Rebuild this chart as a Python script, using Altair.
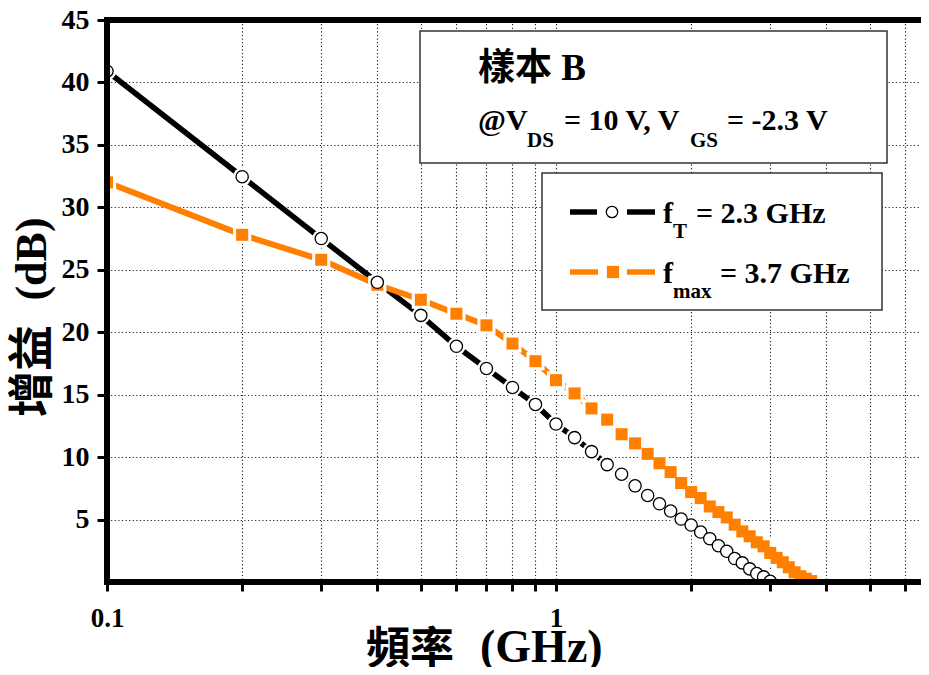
import altair as alt
import pandas as pd

# ---------------- data ----------------
freq_t = [0.1, 0.2, 0.3, 0.4, 0.5, 0.6, 0.7, 0.8, 0.9, 1.0,
          1.1, 1.2, 1.3, 1.4, 1.5, 1.6, 1.7, 1.8, 1.9, 2.0,
          2.1, 2.2, 2.3, 2.4, 2.5, 2.6, 2.7, 2.8, 2.9, 3.0]
gain_t = [40.9, 32.45, 27.5, 24.0, 21.35, 18.87, 17.1, 15.58, 14.22, 12.65,
          11.56, 10.44, 9.4, 8.63, 7.7, 6.93, 6.26, 5.68, 5.04, 4.56,
          4.0, 3.47, 2.91, 2.46, 1.88, 1.53, 1.05, 0.68, 0.41, 0.06]

freq_max = [0.1, 0.2, 0.3, 0.4, 0.5, 0.6, 0.7, 0.8, 0.9, 1.0,
            1.1, 1.2, 1.3, 1.4, 1.5, 1.6, 1.7, 1.8, 1.9, 2.0,
            2.1, 2.2, 2.3, 2.4, 2.5, 2.6, 2.7, 2.8, 2.9, 3.0,
            3.1, 3.2, 3.3, 3.4, 3.5, 3.6, 3.7]
gain_max = [32.0, 27.8, 25.8, 23.8, 22.6, 21.48, 20.55, 19.09, 17.68, 16.16,
            15.1, 13.9, 13.0, 11.83, 11.1, 10.26, 9.51, 8.8, 7.92, 7.2,
            6.72, 6.05, 5.6, 5.17, 4.59, 4.05, 3.66, 3.18, 2.86, 2.33,
            1.93, 1.58, 1.18, 0.78, 0.46, 0.26, 0.08]

x_ticks = [0.1, 0.2, 0.3, 0.4, 0.5, 0.6, 0.7, 0.8, 0.9, 1, 2, 3, 4, 5, 6]
y_ticks = [5, 10, 15, 20, 25, 30, 35, 40, 45]

x_title = ["頻率", "(GHz)"]
y_title = ["增益", "(dB)"]
box_title = "樣本 B"
cond_parts = ["@V", "DS", "= 10 V, V", "GS", "= -2.3 V"]
leg_t = ["f", "T", "= 2.3 GHz"]
leg_max = ["f", "max", "= 3.7 GHz"]

# ---------------- styling ----------------
W, H = 814, 562
FONT = "Liberation Serif, Noto Sans CJK TC"
SERIF = "Liberation Serif"
CJK = "Noto Sans CJK TC"
ORANGE = "#ff8000"
GRID = "#222222"

df_t = pd.DataFrame({"freq": freq_t, "gain": gain_t})
df_m = pd.DataFrame({"freq": freq_max, "gain": gain_max})
one = pd.DataFrame({"a": [0]})

x_enc = alt.X(
    "freq:Q",
    scale=alt.Scale(type="log", domain=[0.1, 6.5], nice=False),
    axis=alt.Axis(
        values=x_ticks, title=None, domain=False,
        labelExpr="datum.value == 1 ? '1' : (abs(datum.value - 0.1) < 0.001 ? '0.1' : '')",
        labelFont=SERIF, labelFontSize=27, labelFontWeight="bold", labelColor="black",
        labelBaseline="alphabetic", labelPadding=35, labelFlush=False, labelOverlap=False,
        tickSize=9, tickWidth=3, tickColor="black",
        grid=True, gridDash=[1.2, 2.4], gridColor=GRID, gridWidth=1.1,
    ),
)
y_enc = alt.Y(
    "gain:Q",
    scale=alt.Scale(domain=[0, 45], nice=False, zero=False),
    axis=alt.Axis(
        values=y_ticks, title=None, domain=False, format="d",
        labelFont=SERIF, labelFontSize=28, labelFontWeight="bold", labelColor="black",
        labelPadding=8, labelOverlap=False,
        tickSize=10, tickWidth=3, tickColor="black",
        grid=True, gridDash=[1.2, 2.4], gridColor=GRID, gridWidth=1.1,
    ),
)

base_t = alt.Chart(df_t)
base_m = alt.Chart(df_m)

line_t = base_t.mark_line(color="black", strokeWidth=5.5, clip=True).encode(x=x_enc, y=y_enc)
line_m = base_m.mark_line(color=ORANGE, strokeWidth=6, clip=True).encode(x=x_enc, y=y_enc)
halo_t = base_t.mark_point(shape="circle", filled=True, fill="white", stroke="white",
                           strokeWidth=0, size=330, opacity=1, clip=True).encode(x=x_enc, y=y_enc)
halo_m = base_m.mark_point(shape="square", filled=True, fill="white", stroke="white",
                           strokeWidth=0, size=330, opacity=1, clip=True).encode(x=x_enc, y=y_enc)
pts_m = base_m.mark_point(shape="square", filled=True, fill=ORANGE, stroke=ORANGE,
                          strokeWidth=0, size=145, opacity=1, clip=True).encode(x=x_enc, y=y_enc)
pts_t = base_t.mark_point(shape="circle", filled=True, fill="white", stroke="black",
                          strokeWidth=1.3, size=150, opacity=1, clip=True).encode(x=x_enc, y=y_enc)

# frame (left, bottom, top)
frame_left = alt.Chart(one).mark_rule(color="black", strokeWidth=6).encode(
    x=alt.value(0), y=alt.value(-3), y2=alt.value(H + 3))
frame_bottom = alt.Chart(one).mark_rule(color="black", strokeWidth=6).encode(
    y=alt.value(H), x=alt.value(-3), x2=alt.value(W))
frame_top = alt.Chart(one).mark_rule(color="black", strokeWidth=6).encode(
    y=alt.value(0), x=alt.value(-3), x2=alt.value(W))


def rect(x1, x2, y1, y2):
    return alt.Chart(one).mark_rect(fill="white", stroke="#333333", strokeWidth=1.5).encode(
        x=alt.value(x1), x2=alt.value(x2), y=alt.value(y1), y2=alt.value(y2))


def txt(s, x, y, size, align="left", baseline="alphabetic", angle=0, font=FONT):
    return alt.Chart(pd.DataFrame({"t": [s]})).mark_text(
        align=align, baseline=baseline, font=font, fontSize=size, angle=angle,
        fontWeight="bold", color="black").encode(x=alt.value(x), y=alt.value(y), text="t:N")


def seg(x1, x2, y, color):
    return alt.Chart(one).mark_rule(color=color, strokeWidth=5.5).encode(
        x=alt.value(x1), x2=alt.value(x2), y=alt.value(y))


box1 = rect(313, 780, 11, 143)
box2 = rect(435, 775, 153, 290)

texts = [
    txt(box_title, 371, 60, 37),
    txt(cond_parts[0], 371, 110, 30, font=SERIF),
    txt(cond_parts[1], 420, 127, 21, font=SERIF),
    txt(cond_parts[2], 457, 110, 30, font=SERIF),
    txt(cond_parts[3], 583, 127, 21, font=SERIF),
    txt(cond_parts[4], 620, 110, 30, font=SERIF),
    txt(leg_t[0], 556, 203, 30, font=SERIF),
    txt(leg_t[1], 566, 218, 21, font=SERIF),
    txt(leg_t[2], 589, 203, 30, font=SERIF),
    txt(leg_max[0], 556, 263, 30, font=SERIF),
    txt(leg_max[1], 566, 278, 21, font=SERIF),
    txt(leg_max[2], 613, 263, 30, font=SERIF),
    # axis titles (CJK part and Latin part set separately)
    txt(x_title[0], 259, H + 82, 44, font=CJK),
    txt(x_title[1], 373, H + 80, 46, font=SERIF),
    txt(y_title[0], -74, 351, 46, align="center", baseline="middle", angle=270, font=CJK),
    txt(y_title[1], -74, 239, 44, align="center", baseline="middle", angle=270, font=SERIF),
]

leg_syms = [
    seg(463, 490, 192, "black"),
    seg(520, 548, 192, "black"),
    alt.Chart(one).mark_point(shape="circle", filled=True, fill="white", stroke="black",
                              strokeWidth=1.3, size=130, opacity=1).encode(
        x=alt.value(505), y=alt.value(192)),
    seg(463, 491, 252, ORANGE),
    seg(520, 548, 252, ORANGE),
    alt.Chart(one).mark_point(shape="square", filled=True, fill=ORANGE, stroke=ORANGE,
                              strokeWidth=0, size=150, opacity=1).encode(
        x=alt.value(506), y=alt.value(252)),
]

chart = alt.layer(
    line_t, line_m, halo_t, halo_m, pts_m, pts_t,
    frame_left, frame_bottom, frame_top,
    box1, box2, *texts, *leg_syms,
).properties(
    width=W, height=H,
    autosize=alt.AutoSizeParams(type="none"),
    padding={"left": 99, "top": 12, "right": 0, "bottom": 85},
    background="white",
).configure_view(stroke=None)

chart.save("out.html", embed_options={"renderer": "svg", "actions": False})
